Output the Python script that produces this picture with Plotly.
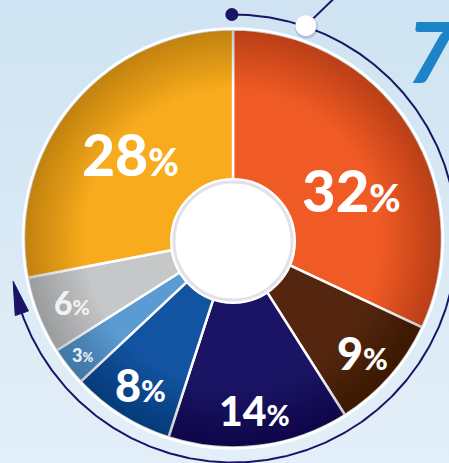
import math
import plotly.graph_objects as go

# ---- data ----
categories = ["A", "B", "C", "D", "E", "F", "G"]
values = [32, 9, 14, 8, 3, 6, 28]
labels = ["32", "9", "14", "8", "3", "6", "28"]
colors = ["#f05a24", "#55260f", "#1b1464", "#1254a1", "#5a9bd3", "#c5c7c9", "#f8ab1c"]

# ---- style ----
W, H = 449, 463
CX, CY, R = 233, 238.5, 209
num_size = [58, 45, 41, 45, 18, 32, 57]
pct_size = [38, 30, 28, 30, 13, 21, 37]
label_r = [127, 173, 173, 173, 190, 173, 133]
label_shift = [(11, 19), (0, 0), (0, 0), (0, 0), (0, 0), (0, 0), (0, 0)]
text_col = ["#ffffff", "#ffffff", "#ffffff", "#ffffff", "#eef1f4", "#f2f2f2", "#ffffff"]
NAVY = "#1b1464"

def px(theta_deg, r):
    t = math.radians(theta_deg)
    return CX + r * math.sin(t), CY - r * math.cos(t)

fig = go.Figure()

# background gradient
fig.add_trace(go.Scatter(x=[0, W, W, 0, 0], y=[0, 0, H, H, 0], fill="toself", mode="none",
                         fillgradient=dict(type="vertical",
                                           colorscale=[[0, "#e3eff8"], [1, "#cfe3f2"]]),
                         hoverinfo="skip", showlegend=False))

# outer arc
ARC_R = 224
angs = [a * 0.5 for a in range(-1, 503)]
ax = [px(a, ARC_R)[0] for a in angs]
ay = [px(a, ARC_R)[1] for a in angs]
fig.add_trace(go.Scatter(x=ax, y=ay, mode="lines", line=dict(color=NAVY, width=2),
                         hoverinfo="skip", showlegend=False))
# arrow head
tip = px(259, ARC_R)
b1 = px(250.5, ARC_R - 7)
b2 = px(250.5, ARC_R + 7)
fig.add_trace(go.Scatter(x=[tip[0], b1[0], b2[0], tip[0]], y=[tip[1], b1[1], b2[1], tip[1]],
                         fill="toself", mode="lines", line=dict(color=NAVY, width=1),
                         fillcolor=NAVY, hoverinfo="skip", showlegend=False))
# pointer line
wc = px(18.9, ARC_R + 1)
fig.add_trace(go.Scatter(x=[wc[0], wc[0] + 60], y=[wc[1], wc[1] - 58], mode="lines",
                         line=dict(color=NAVY, width=2), hoverinfo="skip", showlegend=False))
# dots
d0 = px(-0.3, ARC_R)
fig.add_trace(go.Scatter(x=[d0[0]], y=[d0[1]], mode="markers",
                         marker=dict(size=13, color=NAVY), hoverinfo="skip", showlegend=False))
fig.add_trace(go.Scatter(x=[wc[0] + 0.5], y=[wc[1] + 1.5], mode="markers",
                         marker=dict(size=23, color="rgba(40,40,80,0.18)"), hoverinfo="skip", showlegend=False))
fig.add_trace(go.Scatter(x=[wc[0]], y=[wc[1]], mode="markers",
                         marker=dict(size=21, color="white"), hoverinfo="skip", showlegend=False))

# pie
dom = dict(x=[(CX - R) / W, (CX + R) / W], y=[1 - (CY + R) / H, 1 - (CY - R) / H])
fig.add_trace(go.Pie(values=values, labels=categories, marker=dict(colors=colors, line=dict(color="white", width=2.5)),
                     sort=False, direction="clockwise", rotation=0, hole=0.27, domain=dom,
                     textinfo="none", hoverinfo="skip", showlegend=False))
# rim shading rings (smooth)
n_rings = 14
for k in range(n_rings):
    h = 0.72 + 0.27 * k / (n_rings - 1)
    fig.add_trace(go.Pie(values=[1], marker=dict(colors=["rgba(30,10,0,0.017)"], line=dict(width=0)),
                         hole=h, domain=dom, textinfo="none", hoverinfo="skip", showlegend=False, sort=False))
# white outer rim
fig.add_shape(type="circle", xref="x", yref="y", x0=CX - R - 1, x1=CX + R + 1, y0=CY - R - 1, y1=CY + R + 1,
              line=dict(color="white", width=2.5), layer="above")

# center hole
HX, HY, HR = 233, 241, 62
fig.add_shape(type="circle", xref="x", yref="y", x0=HX - HR, x1=HX + HR, y0=HY - HR, y1=HY + HR,
              fillcolor="white", line=dict(color="white", width=2), layer="above")
fig.add_shape(type="circle", xref="x", yref="y", x0=HX - HR + 3, x1=HX + HR - 3, y0=HY - HR + 3, y1=HY + HR - 3,
              line=dict(color="rgba(170,170,185,0.35)", width=3), layer="above")

# labels
total = sum(values)
cum = 0
for i, v in enumerate(values):
    mid = (cum + v / 2) / total * 360
    cum += v
    x, y = px(mid, label_r[i])
    x += label_shift[i][0]
    y += label_shift[i][1]
    fig.add_annotation(x=x, y=y, xref="x", yref="y", showarrow=False,
                       text=f"{labels[i]}<span style='font-size:{pct_size[i]}px'>%</span>",
                       font=dict(family="Lato", size=num_size[i], color=text_col[i], weight=900))

# big "7"
fig.add_annotation(x=405, y=50, xref="x", yref="y", xanchor="left", showarrow=False,
                   text="<i>7</i>", font=dict(family="Lato", size=84, color="#1e84c8", weight=900))

fig.update_layout(width=W, height=H, margin=dict(l=0, r=0, t=0, b=0),
                  paper_bgcolor="#d8e9f5", plot_bgcolor="rgba(0,0,0,0)",
                  xaxis=dict(range=[0, W], visible=False, domain=[0, 1], fixedrange=True),
                  yaxis=dict(range=[H, 0], visible=False, domain=[0, 1], fixedrange=True))
fig.write_html("out.html")
